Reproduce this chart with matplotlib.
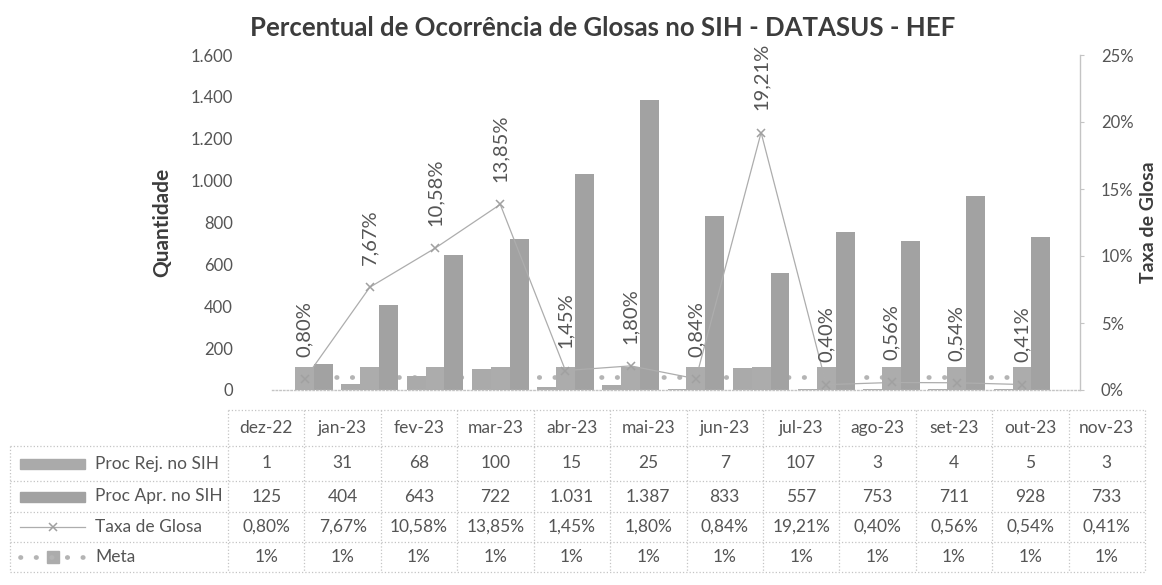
import matplotlib
matplotlib.use("Agg")
import matplotlib.pyplot as plt
from matplotlib.lines import Line2D
from matplotlib.patches import Rectangle
from matplotlib.ticker import FuncFormatter, MultipleLocator

# ---- data -------------------------------------------------------------
months = ["dez-22", "jan-23", "fev-23", "mar-23", "abr-23", "mai-23",
          "jun-23", "jul-23", "ago-23", "set-23", "out-23", "nov-23"]
proc_rej = [1, 31, 68, 100, 15, 25, 7, 107, 3, 4, 5, 3]
proc_apr = [125, 404, 643, 722, 1031, 1387, 833, 557, 753, 711, 928, 733]
taxa_glosa = [0.80, 7.67, 10.58, 13.85, 1.45, 1.80, 0.84, 19.21, 0.40, 0.56, 0.54, 0.41]
meta = [1, 1, 1, 1, 1, 1, 1, 1, 1, 1, 1, 1]

W, H = 1162, 585
FONT = "Lato"
DARK = "#3c3c3c"
MID = "#555555"
C_REJ = "#aaaaaa"
C_APR = "#a2a2a2"
C_META = "#acacac"
C_LINE = "#adadad"
C_GRID = "#c4c4c4"
TXT = 12.5

plt.rcParams["font.family"] = [FONT, "DejaVu Sans"]

fig = plt.figure(figsize=(W / 100, H / 100), dpi=100)


def fx(px):
    return px / W


def fy(py):
    return 1 - py / H


def br(v):
    return f"{v:,.0f}".replace(",", ".")


def pct(v, nd=2):
    return f"{v:.{nd}f}".replace(".", ",") + "%"


# ---- plot area -------------------------------------------------------
left, right, top, bottom = 272, 1080, 55, 390
ax = fig.add_axes([fx(left), fy(bottom), fx(right - left), (bottom - top) / H])
x = list(range(len(months)))
bw = 0.29

ax.bar([i - bw for i in x], proc_rej, width=bw, color=C_REJ, zorder=2)
ax.bar([i + bw for i in x], proc_apr, width=bw, color=C_APR, zorder=2)
ax.set_ylim(0, 1600)
ax.set_xlim(-0.5, 11.89)
ax.yaxis.set_major_locator(MultipleLocator(200))
ax.yaxis.set_major_formatter(FuncFormatter(lambda v, p: br(v)))
ax.tick_params(axis="y", length=0, pad=28, labelsize=12, labelcolor=MID)
ax.set_xticks([])
for s in ("top", "right", "left"):
    ax.spines[s].set_visible(False)
ax.spines["bottom"].set_color(C_GRID)
ax.spines["bottom"].set_linestyle(":")
ax.spines["bottom"].set_linewidth(1.0)
ax.set_ylabel("Quantidade", fontsize=15, fontweight="bold", color=DARK)
ax.yaxis.set_label_coords(fx(172 - left) / fx(right - left), 0.5)
ax.patch.set_alpha(0)

# Meta columns on their own scale
axm = ax.twinx()
axm.set_ylim(0, 14.55)
axm.bar(x, meta, width=bw, color=C_META, zorder=2)
axm.axis("off")

ax2 = ax.twinx()
ax2.set_ylim(0, 25)
# dotted Meta line sits behind the columns
ax.plot(x, meta, transform=ax2.transData, linestyle=(0, (0.1, 3.2)),
        dash_capstyle="round", color="#b4b4b4", lw=3.4, zorder=1)
ax2.plot(x, taxa_glosa, color=C_LINE, lw=0.9, marker="x", ms=6,
         mew=1.1, mec="#a0a0a0", zorder=4)
for i, v in enumerate(taxa_glosa):
    ax2.annotate(pct(v), (i, v), xytext=(0, 16), textcoords="offset points",
                 rotation=90, ha="center", va="bottom", fontsize=14.5,
                 color=MID, zorder=5)
ax2.yaxis.set_major_locator(MultipleLocator(5))
ax2.yaxis.set_major_formatter(FuncFormatter(lambda v, p: f"{v:.0f}%"))
ax2.tick_params(axis="y", length=3, direction="out", color=C_GRID, pad=12,
                labelsize=12, labelcolor=MID)
for s in ("top", "left", "bottom"):
    ax2.spines[s].set_visible(False)
ax2.spines["right"].set_color(C_GRID)
ax2.spines["right"].set_linewidth(1.0)
ax2.set_ylabel("Taxa de Glosa", fontsize=14, fontweight="bold", color=DARK,
               rotation=90, va="center")
ax2.yaxis.set_label_coords(fx(1148 - left) / fx(right - left), 0.5)
ax2.set_zorder(ax.get_zorder() + 2)
axm.set_zorder(ax.get_zorder() + 1)
ax2.patch.set_alpha(0)
axm.patch.set_alpha(0)

fig.text(fx(603), fy(28), "Percentual de Ocorrência de Glosas no SIH - DATASUS - HEF",
         ha="center", va="center", fontsize=18.5, fontweight="bold", color=DARK)

# ---- data table -------------------------------------------------------
tab_l, tab_r, key_l = 228, 1145, 10
colw = (tab_r - tab_l) / len(months)
row_edges = [410, 446, 481, 512, 542, 572]


def hline(y, x0, x1):
    fig.add_artist(Line2D([fx(x0), fx(x1)], [fy(y), fy(y)], color=C_GRID,
                          lw=0.9, ls=":"))


def vline(xp, y0, y1):
    fig.add_artist(Line2D([fx(xp), fx(xp)], [fy(y0), fy(y1)], color=C_GRID,
                          lw=0.9, ls=":"))


hline(row_edges[0], tab_l, tab_r)
for y in row_edges[1:]:
    hline(y, key_l, tab_r)
vline(key_l, row_edges[1], row_edges[-1])
for j in range(len(months) + 1):
    vline(tab_l + j * colw, row_edges[0], row_edges[-1])

rows = [
    ("Proc Rej. no SIH", [br(v) for v in proc_rej]),
    ("Proc Apr. no SIH", [br(v) for v in proc_apr]),
    ("Taxa de Glosa", [pct(v) for v in taxa_glosa]),
    ("Meta", [pct(v, 0) for v in meta]),
]

cy = [(row_edges[k] + row_edges[k + 1]) / 2 for k in range(5)]
for j, m in enumerate(months):
    fig.text(fx(tab_l + (j + 0.5) * colw), fy(cy[0]), m, ha="center",
             va="center", fontsize=TXT, color=MID)
for r, (name, vals) in enumerate(rows):
    yc = cy[r + 1]
    fig.text(fx(95), fy(yc), name, ha="left", va="center", fontsize=TXT,
             color=MID)
    for j, v in enumerate(vals):
        fig.text(fx(tab_l + (j + 0.5) * colw), fy(yc), v, ha="center",
                 va="center", fontsize=TXT, color=MID)

# legend keys
kx0, kx1 = 20, 85
for r, col in ((0, C_REJ), (1, C_APR)):
    yc = cy[r + 1]
    fig.add_artist(Rectangle((fx(kx0), fy(yc + 5)), fx(kx1 - kx0), 10 / H,
                             color=col, transform=fig.transFigure))
yc = cy[3]
fig.add_artist(Line2D([fx(kx0), fx(kx1)], [fy(yc), fy(yc)], color=C_LINE, lw=0.9))
fig.add_artist(Line2D([fx((kx0 + kx1) / 2)], [fy(yc)], marker="x", ms=6,
                      mew=1.1, color="#a0a0a0"))
yc = cy[4]
fig.add_artist(Line2D([fx(kx0), fx(kx1)], [fy(yc), fy(yc)], color="#b4b4b4",
                      lw=3.4, ls=(0, (0.1, 3.2)), dash_capstyle="round"))
fig.add_artist(Rectangle((fx((kx0 + kx1) / 2 - 6), fy(yc + 6)), fx(12), 12 / H,
                         color=C_META, transform=fig.transFigure))

fig.savefig("out.png", dpi=100)
